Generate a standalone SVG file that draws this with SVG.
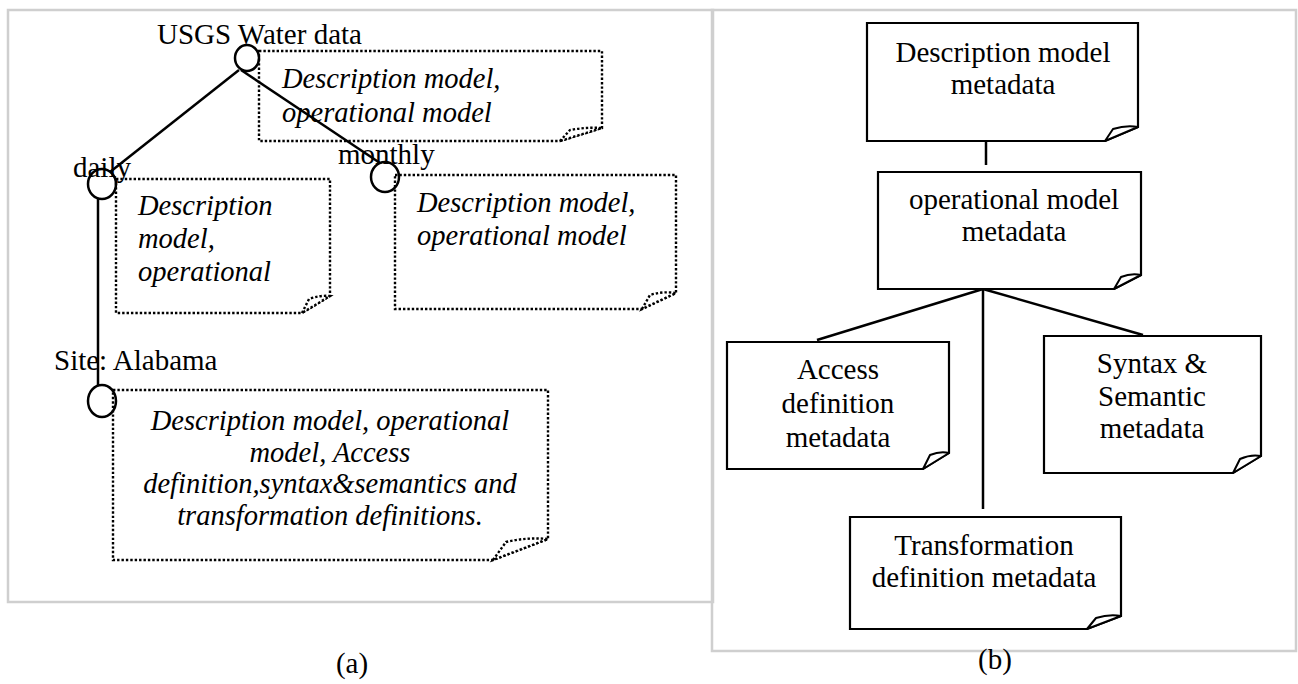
<svg xmlns="http://www.w3.org/2000/svg" width="1298" height="684" viewBox="0 0 1298 684">
  <style>
    .panel { fill: none; stroke: #cfcfcf; stroke-width: 2.5; }
    .note { fill: #fff; stroke: #000; stroke-width: 2.4; stroke-dasharray: 2.4 2; }
    .flapd { fill: #fff; stroke: #000; stroke-width: 2.4; stroke-dasharray: 2.4 2; }
    .box { fill: #fff; stroke: #000; stroke-width: 2.2; }
    .flap { fill: #fff; stroke: #000; stroke-width: 2; stroke-linejoin: round; }
    .edge { fill: none; stroke: #000; stroke-width: 2.5; }
    .node { fill: none; stroke: #000; stroke-width: 2.5; }
    text { font-family: "Liberation Serif", "Times New Roman", serif; font-size: 29px; fill: #000; }
    .it { font-style: italic; font-size: 28.5px; }
    .c { text-anchor: middle; }
  </style>

  <rect width="1298" height="684" fill="#fff"/>

  <!-- panel frames -->
  <rect class="panel" x="8" y="10" width="705" height="592"/>
  <rect class="panel" x="712" y="10" width="584" height="641"/>

  <!-- (a) notes attached to tree nodes -->
  <g id="note-root">
    <path class="note" d="M259,51 H602 V128 L560,141 H259 Z"/>
    <path class="flapd" d="M560,141 L570,130 Q586,127 602,128 Z"/>
    <text class="it" x="282" y="88">Description model,</text>
    <text class="it" x="282" y="122">operational model</text>
  </g>
  <g id="note-daily">
    <path class="note" d="M116,179 H330 V296 L302,313 H116 Z"/>
    <path class="flapd" d="M302,313 L309,299 Q320,295 330,296 Z"/>
    <text class="it" x="138" y="215">Description</text>
    <text class="it" x="138" y="248">model,</text>
    <text class="it" x="138" y="281">operational</text>
  </g>
  <g id="note-monthly">
    <path class="note" d="M395,175 H676 V293 L642,309 H395 Z"/>
    <path class="flapd" d="M642,309 L650,295 Q663,291 676,293 Z"/>
    <text class="it" x="417" y="212">Description model,</text>
    <text class="it" x="417" y="245">operational model</text>
  </g>
  <g id="note-site">
    <path class="note" d="M113,390 H548 V539 L493,560 H113 Z"/>
    <path class="flapd" d="M493,560 L506,542 Q527,537 548,539 Z"/>
    <text class="it c" x="330" y="430">Description model, operational</text>
    <text class="it c" x="330" y="462">model, Access</text>
    <text class="it c" x="330" y="493">definition,syntax&amp;semantics and</text>
    <text class="it c" x="330" y="525">transformation definitions.</text>
  </g>

  <!-- connectors -->
  <g id="connectors">
    <line class="edge" x1="239" y1="70" x2="110" y2="172"/>
    <line class="edge" x1="241" y1="70" x2="380" y2="163"/>
    <line class="edge" x1="98" y1="199" x2="98" y2="385"/>
    <line class="edge" x1="986" y1="141" x2="986" y2="165"/>
    <line class="edge" x1="983" y1="289" x2="817" y2="340"/>
    <line class="edge" x1="983" y1="289" x2="983" y2="509"/>
    <line class="edge" x1="983" y1="289" x2="1143" y2="335"/>
  </g>

  <!-- (a) tree nodes -->
  <g id="node-usgs">
    <ellipse class="node" cx="247" cy="58" rx="12" ry="13"/>
    <text x="157" y="44">USGS Water data</text>
  </g>
  <g id="node-daily">
    <ellipse class="node" cx="102" cy="184" rx="14" ry="15"/>
    <text x="73" y="177">daily</text>
  </g>
  <g id="node-monthly">
    <ellipse class="node" cx="385" cy="177" rx="14" ry="15"/>
    <text x="338" y="164">monthly</text>
  </g>
  <g id="node-site">
    <ellipse class="node" cx="102" cy="401" rx="14" ry="16"/>
    <text x="54" y="370">Site: Alabama</text>
  </g>

  <!-- (b) metadata boxes -->
  <g id="box-description">
    <path class="box" d="M867,23 H1138 V127 L1105,141 H867 Z"/>
    <path class="flap" d="M1105,141 L1113,129 Q1126,125 1138,127 Z"/>
    <text class="c" x="1003" y="62">Description model</text>
    <text class="c" x="1003" y="94">metadata</text>
  </g>
  <g id="box-operational">
    <path class="box" d="M878,172 H1141 V275 L1114,289 H878 Z"/>
    <path class="flap" d="M1114,289 L1121,277 Q1131,273 1141,275 Z"/>
    <text class="c" x="1014" y="209">operational model</text>
    <text class="c" x="1014" y="241">metadata</text>
  </g>
  <g id="box-access">
    <path class="box" d="M727,342 H949 V453 L923,469 H727 Z"/>
    <path class="flap" d="M923,469 L930,455 Q940,451 949,453 Z"/>
    <text class="c" x="838" y="379">Access</text>
    <text class="c" x="838" y="413">definition</text>
    <text class="c" x="838" y="447">metadata</text>
  </g>
  <g id="box-syntax">
    <path class="box" d="M1044,336 H1261 V456 L1233,473 H1044 Z"/>
    <path class="flap" d="M1233,473 L1240,459 Q1251,454 1261,456 Z"/>
    <text class="c" x="1152" y="373">Syntax &amp;</text>
    <text class="c" x="1152" y="406">Semantic</text>
    <text class="c" x="1152" y="438">metadata</text>
  </g>
  <g id="box-transformation">
    <path class="box" d="M850,517 H1121 V616 L1087,629 H850 Z"/>
    <path class="flap" d="M1087,629 L1096,618 Q1109,614 1121,616 Z"/>
    <text class="c" x="984" y="555">Transformation</text>
    <text class="c" x="984" y="587">definition metadata</text>
  </g>

  <!-- captions -->
  <text class="c" x="352" y="673">(a)</text>
  <text class="c" x="995" y="669">(b)</text>
</svg>
